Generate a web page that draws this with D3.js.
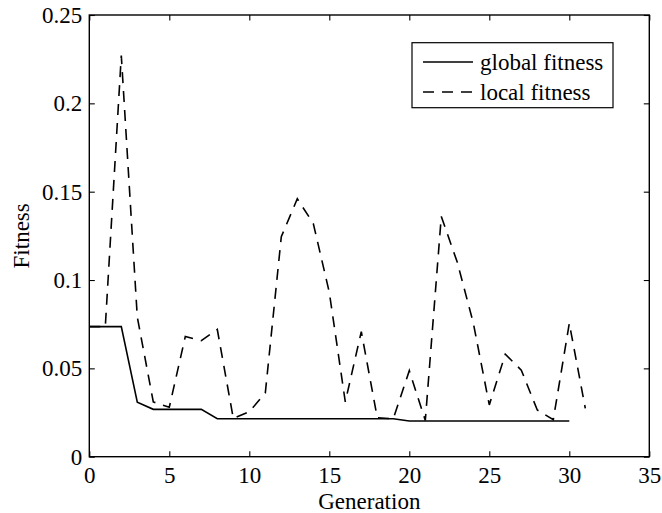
<!DOCTYPE html>
<html>
<head>
<meta charset="utf-8">
<script src="https://cdn.jsdelivr.net/npm/d3@7"></script>
<style>
  html, body { margin: 0; padding: 0; background: #fff; }
  svg { display: block; }
  svg text { font-family: "Liberation Serif", "Times New Roman", serif !important; fill: #000; }
</style>
</head>
<body>
<svg id="chart" width="662" height="513"></svg>
<script>
const xTicks = [0, 5, 10, 15, 20, 25, 30, 35];
const yTicks = [0, 0.05, 0.1, 0.15, 0.2, 0.25];
const yTickLabels = ["0", "0.05", "0.1", "0.15", "0.2", "0.25"];

const globalGen = [0,1,2,3,4,5,6,7,8,9,10,11,12,13,14,15,16,17,18,19,20,21,22,23,24,25,26,27,28,29,30];
const globalFitness = [0.0736,0.0736,0.0736,0.0308,0.0268,0.0268,0.0268,0.0268,0.0215,0.0215,
                       0.0215,0.0215,0.0215,0.0215,0.0215,0.0215,0.0215,0.0215,0.0215,0.0215,
                       0.0202,0.0202,0.0202,0.0202,0.0202,0.0202,0.0202,0.0202,0.0202,0.0202,0.0202];

const localGen = [0,1,2,3,4,5,6,7,8,9,10,11,12,13,14,15,16,17,18,19,20,21,22,23,24,25,26,27,28,29,30,31];
const localFitness = [0.0736,0.0736,0.227,0.079,0.031,0.028,0.068,0.0657,0.072,0.0217,
                      0.0255,0.036,0.1245,0.146,0.132,0.093,0.031,0.0708,0.022,0.0215,
                      0.0487,0.0205,0.136,0.110,0.0757,0.0293,0.058,0.049,0.0264,0.021,
                      0.0755,0.0274];

const seriesNames = ["global fitness", "local fitness"];
const xLabel = "Generation";
const yLabel = "Fitness";

(function () {
const svg = d3.select("#chart");
const pL = 89.3, pR = 649.3, pT = 15, pB = 456.7;
const fs = 23;
const ff = '"Liberation Serif", "Times New Roman", serif';
const dash = "11,8";

const x = d3.scaleLinear().domain([0, 35]).range([pL, pR]);
const y = d3.scaleLinear().domain([0, 0.25]).range([pB, pT]);

// Frame
svg.append("rect")
  .attr("x", pL).attr("y", pT)
  .attr("width", pR - pL).attr("height", pB - pT)
  .attr("fill", "none").attr("stroke", "#000").attr("stroke-width", 1.4);

// Axes with inward ticks
const tickLen = 5.5;
const gx = svg.append("g").attr("transform", `translate(0,${pB})`)
  .call(d3.axisBottom(x).tickValues(xTicks).tickSize(-tickLen).tickPadding(10).tickFormat(d3.format("d")));
const gxTop = svg.append("g").attr("transform", `translate(0,${pT})`)
  .call(d3.axisTop(x).tickValues(xTicks).tickSize(-tickLen).tickFormat(""));
const gy = svg.append("g").attr("transform", `translate(${pL},0)`)
  .call(d3.axisLeft(y).tickValues(yTicks).tickSize(-tickLen).tickPadding(7)
    .tickFormat((d, i) => yTickLabels[i]));
const gyRight = svg.append("g").attr("transform", `translate(${pR},0)`)
  .call(d3.axisRight(y).tickValues(yTicks).tickSize(-tickLen).tickFormat(""));

[gx, gxTop, gy, gyRight].forEach(g => {
  g.attr("font-family", ff).attr("font-size", fs);
  g.select(".domain").remove();
  g.selectAll(".tick line").attr("stroke", "#000").attr("stroke-width", 1.1);
  g.selectAll("text").attr("fill", "#000").attr("font-size", fs).attr("font-family", ff);
});
gx.selectAll("text").attr("dy", "0.71em");

// Lines
const lineGen = d3.line().x(d => x(d[0])).y(d => y(d[1]));
svg.append("path")
  .datum(localGen.map((g, i) => [g, localFitness[i]]))
  .attr("d", lineGen).attr("fill", "none").attr("stroke", "#000")
  .attr("stroke-width", 1.6).attr("stroke-dasharray", dash);
svg.append("path")
  .datum(globalGen.map((g, i) => [g, globalFitness[i]]))
  .attr("d", lineGen).attr("fill", "none").attr("stroke", "#000")
  .attr("stroke-width", 1.6);

// Axis labels
svg.append("text").attr("x", (pL + pR) / 2).attr("y", 509)
  .attr("text-anchor", "middle").attr("font-size", fs).attr("font-family", ff).attr("fill", "#000").text(xLabel);
svg.append("text").attr("transform", `translate(29,${(pT + pB) / 2}) rotate(-90)`)
  .attr("text-anchor", "middle").attr("font-size", fs).attr("font-family", ff).attr("fill", "#000").text(yLabel);

// Legend
const lg = svg.append("g");
lg.append("rect").attr("x", 412).attr("y", 42.7).attr("width", 201).attr("height", 65)
  .attr("fill", "#fff").attr("stroke", "#000").attr("stroke-width", 1.2);
const rows = [{ name: seriesNames[0], dash: null, yy: 62 }, { name: seriesNames[1], dash: dash, yy: 92 }];
rows.forEach(r => {
  lg.append("line").attr("x1", 423).attr("x2", 473).attr("y1", r.yy).attr("y2", r.yy)
    .attr("stroke", "#000").attr("stroke-width", 1.6)
    .attr("stroke-dasharray", r.dash);
  lg.append("text").attr("x", 480).attr("y", r.yy).attr("dy", "0.33em")
    .attr("font-size", fs).attr("font-family", ff).attr("fill", "#000").text(r.name);
});
})();
</script>
</body>
</html>
